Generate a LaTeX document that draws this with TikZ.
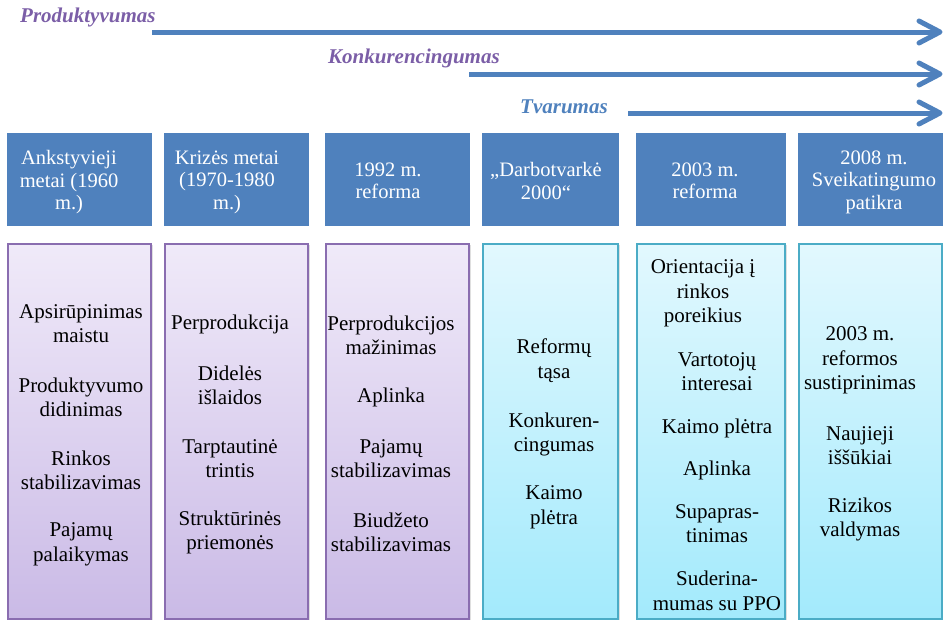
\documentclass[tikz,border=0pt]{standalone}
\usepackage{fontspec}
\setmainfont{Liberation Serif}
\usetikzlibrary{shadows}
\definecolor{hdrblue}{HTML}{4F81BD}
\definecolor{lblpurple}{HTML}{7B5EA7}
\definecolor{purpborder}{HTML}{8A6DB0}
\definecolor{purptop}{RGB}{240,234,249}
\definecolor{purpbot}{RGB}{202,186,230}
\definecolor{cyanborder}{HTML}{4BACC6}
\definecolor{cyantop}{RGB}{226,248,254}
\definecolor{cyanbot}{RGB}{163,234,252}
\tikzset{
  hdrbox/.style={fill=hdrblue, draw=none, inner sep=0pt, minimum height=93pt},
  purpbox/.style={draw=purpborder, line width=2pt, top color=purptop, bottom color=purpbot,
     inner sep=0pt, minimum height=375pt,
     drop shadow={shadow xshift=1.5pt, shadow yshift=-1.5pt, opacity=0.25}},
  cyanbox/.style={draw=cyanborder, line width=2pt, top color=cyantop, bottom color=cyanbot,
     inner sep=0pt, minimum height=375pt,
     drop shadow={shadow xshift=1.5pt, shadow yshift=-1.5pt, opacity=0.25}},
  hdrtxt/.style={text=white, align=center, inner sep=0pt, font=\fontsize{20.5}{22.5}\selectfont},
  bodytxt/.style={text=black, align=center, inner sep=0pt, font=\fontsize{21}{24.5}\selectfont},
  toplbl/.style={anchor=base west, inner sep=0pt, font=\fontsize{21}{24}\selectfont\bfseries\itshape},
  timeline/.style={draw=hdrblue, line width=5pt},
  timeshadow/.style={draw=black, opacity=0.18, line width=5pt},
  chevron/.style={draw=hdrblue, line width=5pt, line cap=round, line join=round}
}
\begin{document}
\begin{tikzpicture}[x=1pt,y=-1pt]
\useasboundingbox (0,0) rectangle (943,621);

% top labels
\node[toplbl, text=lblpurple] (lprod) at (20,22) {Produktyvumas};
\node[toplbl, text=lblpurple] (lkonk) at (328,63) {Konkurencingumas};
\node[toplbl, text=hdrblue] (ltvar) at (520,113) {Tvarumas};

% arrow coordinates
\coordinate (a1s) at (152,32); \coordinate (a1e) at (937,32);
\coordinate (a2s) at (469,74); \coordinate (a2e) at (937,74);
\coordinate (a3s) at (628,113); \coordinate (a3e) at (937,113);
\coordinate (a1t) at (919,21); \coordinate (a1m) at (940,32); \coordinate (a1b) at (919,43);
\coordinate (a2t) at (919,63); \coordinate (a2m) at (940,74); \coordinate (a2b) at (919,85);
\coordinate (a3t) at (919,102); \coordinate (a3m) at (940,113); \coordinate (a3b) at (919,124);

% shadows of arrows
\begin{scope}[shift={(1.5,3)}]
\draw[timeshadow] (a1s) -- (a1e);
\draw[timeshadow] (a2s) -- (a2e);
\draw[timeshadow] (a3s) -- (a3e);
\end{scope}
\draw[timeline] (a1s) -- (a1e);
\draw[chevron] (a1t) -- (a1m) -- (a1b);
\draw[timeline] (a2s) -- (a2e);
\draw[chevron] (a2t) -- (a2m) -- (a2b);
\draw[timeline] (a3s) -- (a3e);
\draw[chevron] (a3t) -- (a3m) -- (a3b);

% header boxes
\node[hdrbox, minimum width=145pt] (h1) at (79.5,179.5) {};
\node[hdrbox, minimum width=145pt] (h2) at (236.5,179.5) {};
\node[hdrbox, minimum width=145pt] (h3) at (397.5,179.5) {};
\node[hdrbox, minimum width=137pt] (h4) at (550.5,179.5) {};
\node[hdrbox, minimum width=150pt] (h5) at (711,179.5) {};
\node[hdrbox, minimum width=145pt] (h6) at (870.5,179.5) {};

\node[hdrtxt] (t1) at (69,182.5) {Ankstyvieji\\metai (1960\\m.)};
\node[hdrtxt] (t2) at (227,182) {Krizės metai\\(1970-1980\\m.)};
\node[hdrtxt] (t3) at (388,181) {1992 m.\\reforma};
\node[hdrtxt] (t4) at (546,181) {„Darbotvarkė\\2000“};
\node[hdrtxt] (t5) at (705,181) {2003 m.\\reforma};
\node[hdrtxt] (t6) at (874,182) {2008 m.\\Sveikatingumo\\patikra};

% lower boxes
\node[purpbox, minimum width=143pt] (b1) at (79.5,431) {};
\node[purpbox, minimum width=143pt] (b2) at (236.5,431) {};
\node[purpbox, minimum width=143pt] (b3) at (397.5,431) {};
\node[cyanbox, minimum width=135pt] (b4) at (550.5,431) {};
\node[cyanbox, minimum width=148pt] (b5) at (711,431) {};
\node[cyanbox, minimum width=143pt] (b6) at (870.5,431) {};

% column 1
\node[bodytxt] (c1a) at (81,323.5) {Apsirūpinimas\\maistu};
\node[bodytxt] (c1b) at (81,397.5) {Produktyvumo\\didinimas};
\node[bodytxt] (c1c) at (81,470.5) {Rinkos\\stabilizavimas};
\node[bodytxt] (c1d) at (81,544.5) {Pajamų\\palaikymas};
% column 2
\node[bodytxt] (c2a) at (230,324.5) {Perprodukcija};
\node[bodytxt] (c2b) at (230,385.5) {Didelės\\išlaidos};
\node[bodytxt] (c2c) at (230,458.5) {Tarptautinė\\trintis};
\node[bodytxt] (c2d) at (230,532.5) {Struktūrinės\\priemonės};
% column 3
\node[bodytxt] (c3a) at (391,335.5) {Perprodukcijos\\mažinimas};
\node[bodytxt] (c3b) at (391,397.5) {Aplinka};
\node[bodytxt] (c3c) at (391,458.5) {Pajamų\\stabilizavimas};
\node[bodytxt] (c3d) at (391,532.5) {Biudžeto\\stabilizavimas};
% column 4
\node[bodytxt] (c4a) at (554,360.5) {Reformų\\tąsa};
\node[bodytxt] (c4b) at (554,434.5) {Konkuren-\\cingumas};
\node[bodytxt] (c4c) at (554,507.5) {Kaimo\\plėtra};
% column 5
\node[bodytxt] (c5a) at (703,293.5) {Orientacija į\\rinkos\\poreikius};
\node[bodytxt] (c5b) at (717,371.5) {Vartotojų\\interesai};
\node[bodytxt] (c5c) at (717,428.5) {Kaimo plėtra};
\node[bodytxt] (c5d) at (717,470.5) {Aplinka};
\node[bodytxt] (c5e) at (717,523.5) {Supapras-\\tinimas};
\node[bodytxt] (c5f) at (717,591) {Suderina-\\mumas su PPO};
% column 6
\node[bodytxt] (c6a) at (860,360.5) {2003 m.\\reformos\\sustiprinimas};
\node[bodytxt] (c6b) at (860,445.5) {Naujieji\\iššūkiai};
\node[bodytxt] (c6c) at (860,519.5) {Rizikos\\valdymas};
\end{tikzpicture}
\end{document}
